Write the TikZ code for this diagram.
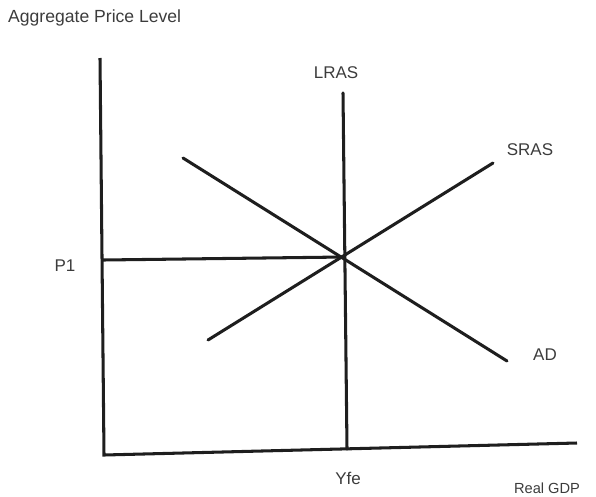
\documentclass[tikz,border=0pt]{standalone}
\usepackage{fontspec}
\setmainfont{Liberation Sans}
\usetikzlibrary{positioning}
\definecolor{curve-color}{RGB}{30,30,30}
\definecolor{text-color}{RGB}{60,60,60}

\begin{document}
\begin{tikzpicture}[x=0.03cm, y=-0.03cm,
    curve/.style={draw=curve-color, line width=2.6pt, line cap=round},
    axis/.style={draw=curve-color, line width=2.6pt},
    labelstyle/.style={font=\fontsize{14.5}{16}\selectfont, text=text-color, inner sep=0pt}]

    % Canvas with the same proportions as the reference
    \useasboundingbox (0,0) rectangle (596,496);

    % Axes
    \coordinate (ytop) at (100,58);
    \coordinate (origin) at (104,455);
    \coordinate (xend) at (577,443);
    \draw[axis] (ytop) -- (origin) -- (xend);

    % Curves
    \coordinate (lras-top) at (343,93);
    \coordinate (lras-bot) at (347,449);
    \coordinate (ad-top) at (183,158);
    \coordinate (ad-bot) at (507,361);
    \coordinate (sras-bot) at (208,340);
    \coordinate (sras-top) at (493,163);
    \coordinate (eq) at (344,257);
    \coordinate (p1-axis) at (103,260);
    \draw[curve] (lras-top) -- (lras-bot);
    \draw[curve] (ad-top) -- (ad-bot);
    \draw[curve] (sras-bot) -- (sras-top);
    \draw[curve] (p1-axis) -- (eq);

    % Labels
    \node[labelstyle, anchor=base west, font=\fontsize{15}{17}\selectfont] (ylabel) at (8,22) {Aggregate Price Level};
    \node[labelstyle] (lras) at (336,73) {LRAS};
    \node[labelstyle] (sras) at (530,150) {SRAS};
    \node[labelstyle] (ad) at (545,355) {AD};
    \node[labelstyle] (p1) at (65,266) {P1};
    \node[labelstyle] (yfe) at (348,478) {Yfe};
    \node[labelstyle, font=\fontsize{12.5}{14}\selectfont] (xlabel) at (547,488) {Real GDP};
\end{tikzpicture}
\end{document}
